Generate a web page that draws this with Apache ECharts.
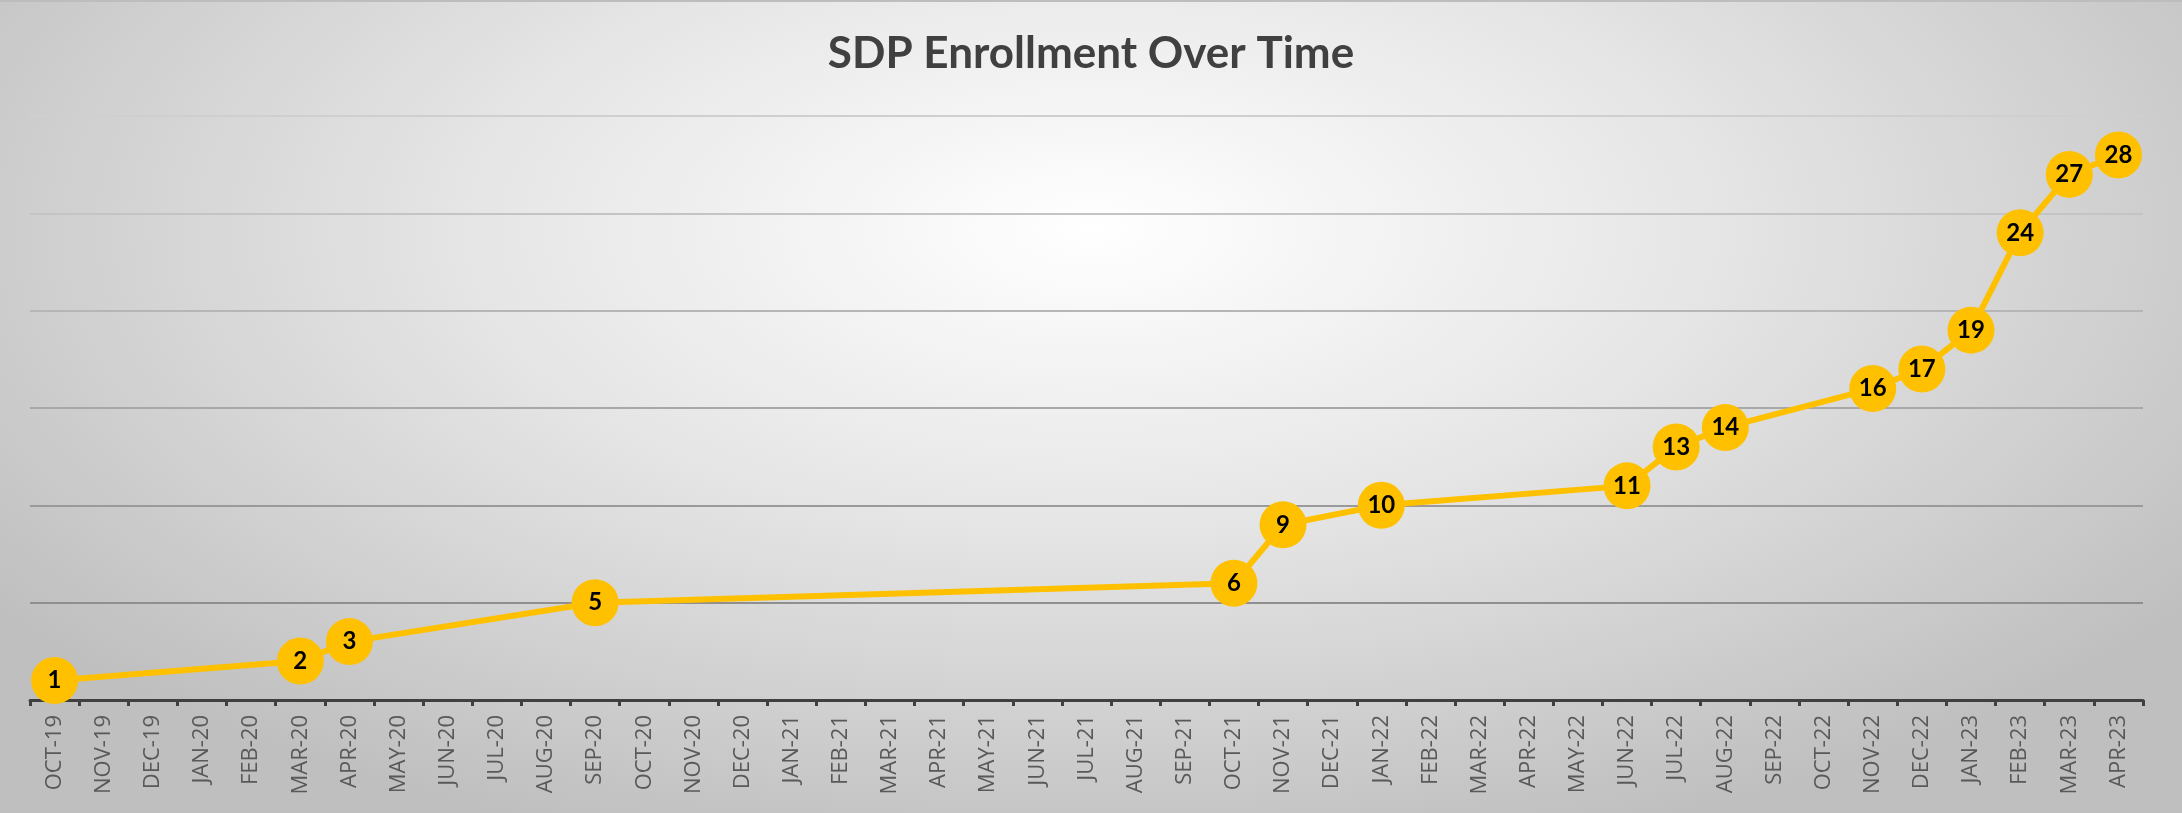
<!DOCTYPE html>
<html>
<head>
<meta charset="utf-8">
<title>SDP Enrollment Over Time</title>
<script src="https://cdn.jsdelivr.net/npm/echarts@6/dist/echarts.min.js"></script>
<style>
    html, body { margin: 0; padding: 0; }
    #chart
    {
        width: 2182px;
        height: 813px;
        box-sizing: border-box;
        border-top: 2px solid #bdbdbd;
        background: radial-gradient(ellipse 62% 80% at 50% 28%, #ffffff 0%, #e6e6e6 45%, #bfbfbf 100%);
    }
</style>
</head>
<body>
<div id="chart"></div>
<script>
// months on the x axis
var months = [
    "OCT-19", "NOV-19", "DEC-19", "JAN-20", "FEB-20", "MAR-20", "APR-20", "MAY-20",
    "JUN-20", "JUL-20", "AUG-20", "SEP-20", "OCT-20", "NOV-20", "DEC-20", "JAN-21",
    "FEB-21", "MAR-21", "APR-21", "MAY-21", "JUN-21", "JUL-21", "AUG-21", "SEP-21",
    "OCT-21", "NOV-21", "DEC-21", "JAN-22", "FEB-22", "MAR-22", "APR-22", "MAY-22",
    "JUN-22", "JUL-22", "AUG-22", "SEP-22", "OCT-22", "NOV-22", "DEC-22", "JAN-23",
    "FEB-23", "MAR-23", "APR-23"
];

// cumulative enrollment, null where no enrollment was recorded that month
var enrollment = [
    1, null, null, null, null, 2, 3, null,
    null, null, null, 5, null, null, null, null,
    null, null, null, null, null, null, null, null,
    6, 9, null, 10, null, null, null, null,
    11, 13, 14, null, null, 16, 17, 19,
    24, 27, 28
];

// gridlines get lighter towards the top, like the original
var gridColors = ["rgba(0,0,0,0)", "#8f8f8f", "#9a9a9a", "#a8a8a8", "#b6b6b6", "#c4c4c4", "#cfcfcf"];

var chart = echarts.init(document.getElementById("chart"));

var option = {
    backgroundColor: "transparent",
    title:
    {
        text: "SDP Enrollment Over Time",
        left: 1086,
        textAlign: "center",
        top: 25,
        textStyle:
        {
            fontFamily: "Lato",
            fontWeight: "bold",
            fontSize: 44,
            color: "#404040"
        }
    },
    grid:
    {
        left: 30,
        right: 39,
        top: 114,
        bottom: 113
    },
    xAxis:
    {
        type: "category",
        data: months,
        boundaryGap: true,
        axisLine:
        {
            lineStyle: { color: "#404040", width: 3 }
        },
        axisTick:
        {
            show: true,
            interval: 0,
            length: 6,
            lineStyle: { color: "#404040", width: 3 }
        },
        axisLabel:
        {
            interval: 0,
            rotate: 90,
            margin: 15,
            fontFamily: "Open Sans",
            fontSize: 22,
            color: "#595959"
        }
    },
    yAxis:
    {
        type: "value",
        min: 0,
        max: 30,
        interval: 5,
        axisLabel: { show: false },
        axisLine: { show: false },
        axisTick: { show: false },
        splitLine:
        {
            lineStyle: { color: gridColors, width: 2 }
        }
    },
    series: [
        {
            type: "line",
            data: enrollment,
            connectNulls: true,
            symbol: "circle",
            symbolSize: 47,
            lineStyle: { color: "#FFC000", width: 6 },
            itemStyle: { color: "#FFC000" },
            label:
            {
                show: true,
                position: "inside",
                fontFamily: "Lato",
                fontWeight: "bold",
                fontSize: 24,
                color: "#000000"
            },
            z: 3
        }
    ]
};

chart.setOption(option);
</script>
</body>
</html>
